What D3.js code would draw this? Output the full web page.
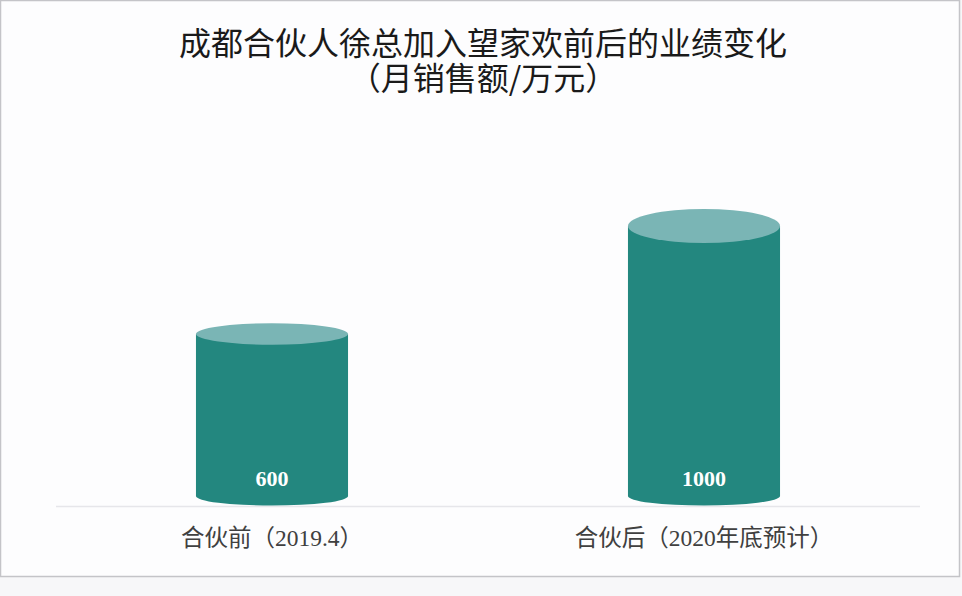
<!DOCTYPE html>
<html><head><meta charset="utf-8">
<script src="https://cdn.jsdelivr.net/npm/d3@7/dist/d3.min.js"></script>
<style>
html,body{margin:0;padding:0;background:#f7f7f9;}
svg{display:block;}
</style></head>
<body>
<svg id="chart" width="962" height="596"></svg>
<script>
const categories = ["合伙前（2019.4）", "合伙后（2020年底预计）"];
const values = [600, 1000];
const titleLines = ["成都合伙人徐总加入望家欢前后的业绩变化", "（月销售额/万元）"];

const svg = d3.select("#chart");

// chart frame
svg.append("rect").attr("x", 0.5).attr("y", 0.5).attr("width", 959).attr("height", 576)
  .attr("fill", "#fdfdfe").attr("stroke", "#c4c4c8").attr("stroke-width", 1.5);

// title (one text element, two lines)
svg.append("text")
  .attr("text-anchor", "middle")
  .attr("font-family", "'Noto Sans CJK SC', 'Noto Sans', sans-serif")
  .attr("font-size", 32).attr("fill", "#1a1a1a")
  .selectAll("tspan").data(titleLines).join("tspan")
  .attr("x", 483).attr("y", (d, i) => 55 + i * 35)
  .text(d => d);

const x = d3.scaleBand().domain(categories).range([56, 920]).paddingInner(0.648).paddingOuter(0.324);
const y = d3.scaleLinear().domain([0, 1000]).range([496, 226]);
const ryTop = d3.scalePow().exponent(3).domain([0, 1000]).range([9, 17]);
const ryBase = 9.5;

// axis line
svg.append("line").attr("x1", 56).attr("x2", 920).attr("y1", 506.5).attr("y2", 506.5)
  .attr("stroke", "#e6e6ea").attr("stroke-width", 1.5);

const data = categories.map((c, i) => ({ c, v: values[i] }));
const bars = svg.append("g").selectAll("g.bar").data(data).join("g").attr("class", "bar");

bars.append("path")
  .attr("fill", "#23877f")
  .attr("d", d => {
    const x0 = x(d.c), w = x.bandwidth(), rx = w / 2;
    const yt = y(d.v), yb = y(0);
    return `M${x0},${yt} L${x0},${yb} A${rx},${ryBase} 0 0 0 ${x0 + w},${yb} L${x0 + w},${yt} Z`;
  });

bars.append("ellipse")
  .attr("cx", d => x(d.c) + x.bandwidth() / 2)
  .attr("cy", d => y(d.v))
  .attr("rx", x.bandwidth() / 2)
  .attr("ry", d => ryTop(d.v))
  .attr("fill", "#7ab5b5");

bars.append("text")
  .attr("x", d => x(d.c) + x.bandwidth() / 2)
  .attr("y", 478)
  .attr("text-anchor", "middle").attr("dominant-baseline", "central")
  .attr("font-family", "'Liberation Serif', 'DejaVu Serif', serif")
  .attr("font-weight", "bold").attr("font-size", 22).attr("fill", "#ffffff")
  .text(d => d.v);

// category labels
svg.append("g").selectAll("text").data(categories).join("text")
  .attr("x", d => x(d) + x.bandwidth() / 2)
  .attr("y", 538)
  .attr("text-anchor", "middle").attr("dominant-baseline", "central")
  .attr("font-family", "'Liberation Serif', 'Noto Sans CJK SC', serif")
  .attr("font-size", 23.5).attr("fill", "#404040")
  .text(d => d);
</script>
</body></html>
